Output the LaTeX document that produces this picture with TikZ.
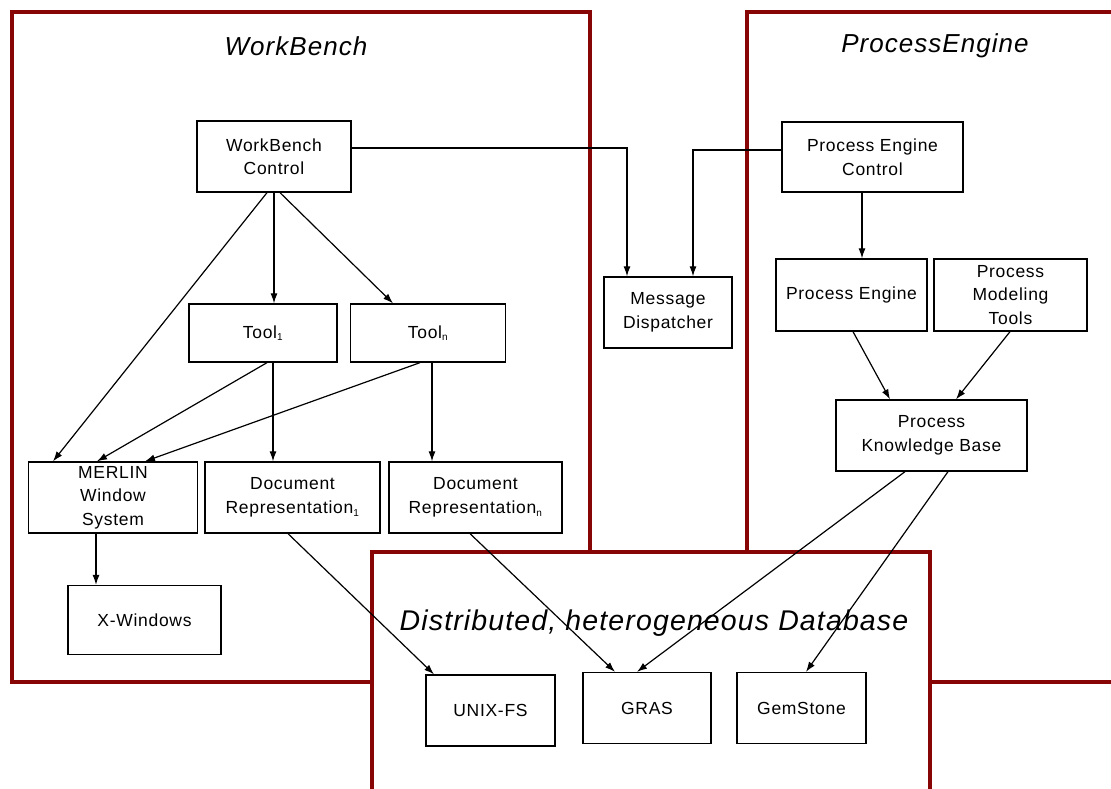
\documentclass[tikz,border=0pt]{standalone}
\usepackage{fontspec}
\usetikzlibrary{arrows.meta,calc}
\setmainfont{Liberation Sans}
\newfontfamily\boxfont[LetterSpace=4]{Liberation Sans}
\newfontfamily\titlefont[LetterSpace=4]{Liberation Sans}
\definecolor{framered}{RGB}{135,5,5}
\newcommand{\idx}[1]{\textsubscript{\fontsize{10}{10}\selectfont #1}}
\tikzset{
  frame/.style={draw=framered, line width=4pt, fill=white},
  box/.style={draw=black, line width=1.3pt, fill=white, align=center, inner sep=0pt,
    font=\boxfont\fontsize{17.5}{23.5}\selectfont},
  title/.style={font=\titlefont\itshape\fontsize{26}{30}\selectfont},
  arr/.style={draw=black, line width=1.2pt, -{Latex[length=10pt,width=7pt]}},
}
\newcommand{\boxat}[5]{\node[box, minimum width=#3pt, minimum height=#4pt] (#1) at (#2) {#5};}
\begin{document}
\begin{tikzpicture}[x=1pt, y=-1pt]
\useasboundingbox (0,0) rectangle (1111,789);
\begin{scope}
\clip (0,0) rectangle (1111,789);
% three subsystem frames; the database frame lies on top
\draw[frame] (12,12) rectangle (590,682);
\draw[frame] (747,12) rectangle (1140,682);
\draw[frame] (372,552) rectangle (930,820);
\end{scope}

\node[title] (wbtitle) at (296,46) {WorkBench};
\node[title] (petitle) at (935,46) {ProcessEngine};
\node[title, font=\titlefont\itshape\fontsize{28.5}{32}\selectfont] (dbtitle) at (654,623) {Distributed, heterogeneous Database};

% WorkBench components
\boxat{wbc}{274,156.5}{154}{71}{WorkBench\\Control}
\boxat{tool1}{263,333}{148}{58}{Tool\idx{1}}
\boxat{tooln}{428,333}{155}{58}{Tool\idx{n}}
\boxat{merlin}{113,497.5}{169}{71}{MERLIN\\Window\\System}
\boxat{doc1}{292.5,497.5}{175}{71}{Document\\Representation\idx{1}}
\boxat{docn}{475.5,497.5}{173}{71}{Document\\Representation\idx{n}}
\boxat{xwin}{144.5,620}{153}{69}{X-Windows}

% message dispatcher between the frames
\boxat{md}{668,312.5}{128}{71}{Message\\Dispatcher}

% ProcessEngine components
\boxat{pec}{872.5,157}{181}{70}{Process Engine\\Control}
\boxat{pe}{851.5,295}{151}{72}{Process Engine}
\boxat{pmt}{1010.5,295}{153}{72}{Process\\Modeling\\Tools}
\boxat{pkb}{931.5,435.5}{191}{71}{Process\\Knowledge Base}

% database components
\boxat{unix}{490.5,710.5}{129}{71}{UNIX-FS}
\boxat{gras}{647,708}{128}{71}{GRAS}
\boxat{gem}{801.5,708}{129}{71}{GemStone}

% WorkBench connectors
\draw[arr] ([xshift=-7pt]wbc.south) -- ([xshift=-60pt]merlin.north);
\draw[arr] (wbc.south) -- (wbc.south |- tool1.north);
\draw[arr] ([xshift=6pt]wbc.south) -- ([xshift=-35pt]tooln.north);
\draw[arr] ([xshift=4pt]tool1.south) -- ([xshift=-16pt]merlin.north);
\draw[arr] ([xshift=10pt]tool1.south) -- ([xshift=10pt]tool1.south |- doc1.north);
\draw[arr] ([xshift=-8pt]tooln.south) -- ([xshift=32pt]merlin.north);
\draw[arr] ([xshift=4pt]tooln.south) -- ([xshift=4pt]tooln.south |- docn.north);
\draw[arr] ([xshift=-17pt]merlin.south) -- ([xshift=-17pt]merlin.south |- xwin.north);

% control messages
\draw[arr] ([yshift=8.5pt]wbc.east) -| ([xshift=-41pt]md.north);
\draw[arr] ([yshift=7pt]pec.west) -| ([xshift=25pt]md.north);

% ProcessEngine connectors
\draw[arr] ([xshift=-10.5pt]pec.south) -- ([xshift=-10.5pt]pec.south |- pe.north);
\draw[arr] ([xshift=1.5pt]pe.south) -- ([xshift=-41.5pt]pkb.north);
\draw[arr] ([xshift=-0.5pt]pmt.south) -- ([xshift=24.5pt]pkb.north);

% storage connectors
\draw[arr] ([xshift=-4.5pt]doc1.south) -- ([xshift=-56.5pt]unix.north);
\draw[arr] ([xshift=-5.5pt]docn.south) -- ([xshift=-32pt]gras.north);
\draw[arr] ([xshift=-26.5pt]pkb.south) -- ([xshift=-10pt]gras.north);
\draw[arr] ([xshift=16.5pt]pkb.south) -- ([xshift=4.5pt]gem.north);
\end{tikzpicture}
\end{document}
